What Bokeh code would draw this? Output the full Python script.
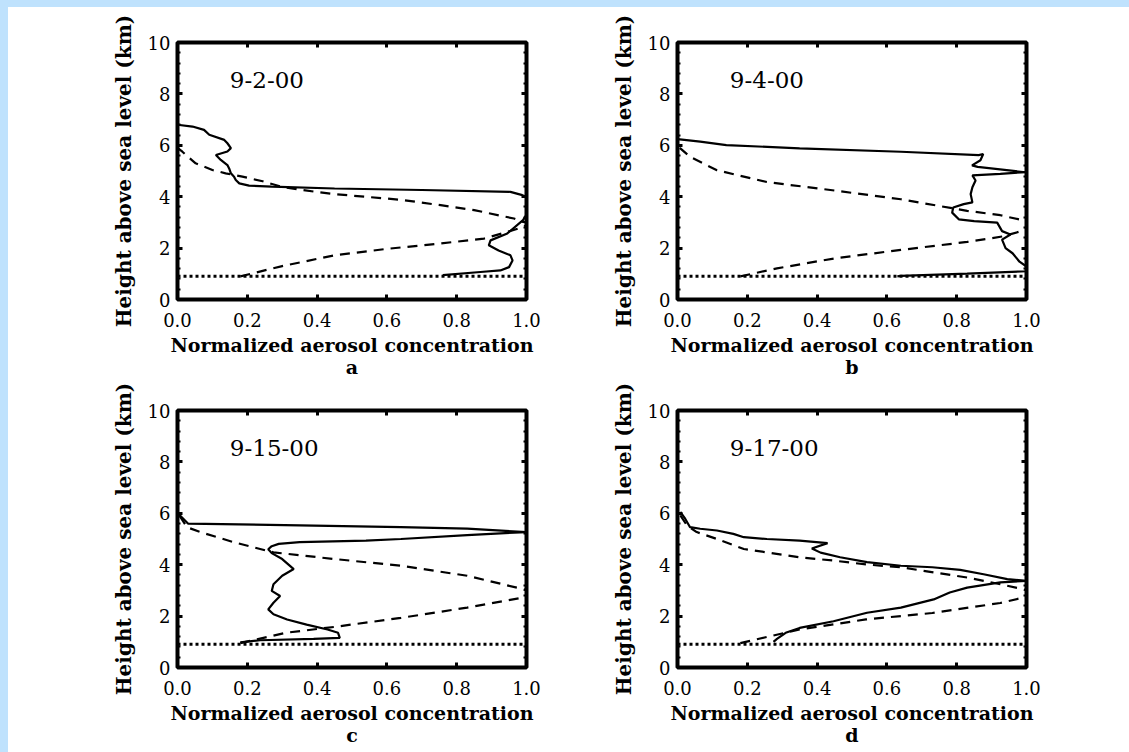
from bokeh.plotting import figure
from bokeh.models import (LinearAxis, FixedTicker, PrintfTickFormatter,
                          CustomJSTickFormatter, Span, Label)
from bokeh.layouts import gridplot, column
from bokeh.embed import file_html
from bokeh.resources import INLINE

# ---- data -------------------------------------------------------------
X_TICKS = [0.0, 0.2, 0.4, 0.6, 0.8, 1.0]
Y_TICKS = [0, 2, 4, 6, 8, 10]
Y_MINOR = [v / 10 for v in range(4, 100, 4) if v % 20]
BOUNDARY_KM = 0.9

DATES = ["9-2-00", "9-4-00", "9-15-00", "9-17-00"]
PANEL_TAGS = ["a", "b", "c", "d"]
X_TITLE = "Normalized aerosol concentration"
Y_TITLE = "Height above sea level (km)"

# 9-2-00
a_obs_x = [0.76, 0.868, 0.925, 0.95, 0.96, 0.954, 0.92, 0.892, 0.897, 0.945, 0.99, 1.0,
           1.0, 0.988, 0.954, 0.7, 0.45, 0.27, 0.205, 0.177, 0.167, 0.162, 0.153,
           0.148, 0.143, 0.124, 0.11, 0.143, 0.153, 0.143, 0.134, 0.091, 0.076,
           0.043, 0.0]
a_obs_y = [0.95, 1.07, 1.13, 1.26, 1.52, 1.72, 1.91, 2.11, 2.3, 2.57, 3.09, 3.3,
           4.0, 4.06, 4.19, 4.26, 4.32, 4.39, 4.43, 4.52, 4.65, 4.78, 4.91,
           5.1, 5.23, 5.43, 5.62, 5.76, 5.89, 6.08, 6.21, 6.41, 6.6,
           6.73, 6.8]
a_mod_x = [0.18, 0.3, 0.45, 0.6, 0.754, 0.878, 0.945, 0.99, 1.0,
           1.0, 0.99, 0.964, 0.85, 0.754, 0.64, 0.45, 0.39, 0.3, 0.244, 0.186,
           0.138, 0.1, 0.052, 0.029, 0.014, 0.0]
a_mod_y = [0.9, 1.3, 1.72, 1.97, 2.18, 2.37, 2.63, 2.82, 2.9,
           3.0, 3.02, 3.15, 3.48, 3.67, 3.88, 4.1, 4.2, 4.38, 4.6, 4.78,
           4.91, 5.04, 5.3, 5.56, 5.75, 5.9]

# 9-4-00
b_obs_x = [0.63, 0.64, 0.83, 1.0, 1.0, 0.98, 0.96, 0.94, 0.93, 0.954, 0.93, 0.916,
           0.85, 0.806, 0.787, 0.79, 0.82, 0.845, 0.84, 0.845, 0.854, 0.845,
           0.925, 1.0, 0.99, 0.86, 0.844, 0.868, 0.876, 0.863, 0.64, 0.35, 0.14,
           0.065, 0.0]
b_obs_y = [0.9, 0.92, 1.01, 1.1, 1.28, 1.47, 1.8, 2.0, 2.33, 2.53, 2.66, 2.99,
           3.05, 3.12, 3.38, 3.58, 3.71, 3.78, 4.1, 4.37, 4.63, 4.83,
           4.89, 4.96, 4.96, 5.16, 5.22, 5.42, 5.66, 5.62, 5.75, 5.88, 6.01,
           6.14, 6.24]
b_mod_x = [0.18, 0.285, 0.45, 0.64, 0.83, 0.93, 0.99, 1.0,
           1.0, 0.925, 0.83, 0.64, 0.45, 0.256, 0.113, 0.036, 0.008, 0.0]
b_mod_y = [0.9, 1.21, 1.6, 1.93, 2.24, 2.45, 2.68, 2.75,
           3.05, 3.28, 3.45, 3.9, 4.24, 4.57, 5.03, 5.55, 5.88, 5.95]

# 9-15-00
c_obs_x = [0.18, 0.237, 0.39, 0.465, 0.46, 0.43, 0.37, 0.314, 0.275, 0.26, 0.275,
           0.294, 0.27, 0.275, 0.3, 0.333, 0.3, 0.27, 0.26, 0.27, 0.29, 0.35,
           0.54, 0.64, 0.83, 1.0, 0.83, 0.64, 0.35, 0.03, 0.008, 0.0]
c_obs_y = [0.98, 1.06, 1.11, 1.15, 1.35, 1.48, 1.67, 1.87, 2.07, 2.26, 2.52,
           2.78, 2.98, 3.24, 3.57, 3.83, 4.22, 4.45, 4.6, 4.72, 4.81, 4.88,
           4.94, 5.0, 5.15, 5.27, 5.4, 5.46, 5.53, 5.6, 5.9, 6.0]
c_mod_x = [0.18, 0.31, 0.45, 0.64, 0.83, 0.99, 1.0,
           1.0, 0.99, 0.83, 0.64, 0.45, 0.275, 0.16, 0.065, 0.027, 0.008, 0.0]
c_mod_y = [0.95, 1.35, 1.58, 1.93, 2.33, 2.72, 2.78,
           3.0, 3.05, 3.57, 3.96, 4.22, 4.48, 4.88, 5.27, 5.46, 5.86, 5.95]

# 9-17-00
d_obs_x = [0.275, 0.285, 0.31, 0.35, 0.447, 0.543, 0.64, 0.734, 0.78, 0.83, 0.925,
           1.0, 0.945, 0.877, 0.81, 0.73, 0.64, 0.543, 0.466, 0.41, 0.385, 0.43,
           0.35, 0.256, 0.19, 0.16, 0.113, 0.065, 0.036, 0.022, 0.008]
d_obs_y = [1.0, 1.11, 1.35, 1.54, 1.8, 2.13, 2.33, 2.65, 2.92, 3.11, 3.31,
           3.37, 3.44, 3.63, 3.8, 3.9, 3.96, 4.1, 4.29, 4.47, 4.63, 4.84,
           4.94, 5.0, 5.07, 5.2, 5.33, 5.4, 5.46, 5.79, 6.05]
d_mod_x = [0.18, 0.35, 0.54, 0.73, 0.925, 0.99, 1.0,
           1.0, 0.99, 0.925, 0.83, 0.64, 0.54, 0.447, 0.35, 0.256, 0.19, 0.113,
           0.055, 0.027, 0.008, 0.0]
d_mod_y = [0.95, 1.48, 1.87, 2.12, 2.51, 2.72, 2.78,
           3.0, 3.05, 3.24, 3.5, 3.9, 4.01, 4.16, 4.29, 4.48, 4.61, 5.0,
           5.27, 5.53, 5.92, 5.98]

OBS = [(a_obs_x, a_obs_y), (b_obs_x, b_obs_y), (c_obs_x, c_obs_y), (d_obs_x, d_obs_y)]
MOD = [(a_mod_x, a_mod_y), (b_mod_x, b_mod_y), (c_mod_x, c_mod_y), (d_mod_x, d_mod_y)]

# ---- styling ----------------------------------------------------------
SERIF = "DejaVu Serif"
BG_BAND = "#bfe2fd"

# per-panel outer borders (left, right, top, bottom)
BORDERS = [(169, 43, 35, 84), (108, 103, 35, 84),
           (169, 43, 27, 85), (108, 103, 27, 85)]
FRAME_W, FRAME_H = 349, 257


def style_ticks(ax):
    ax.axis_line_color = None
    ax.major_tick_in = 5
    ax.major_tick_out = 0
    ax.major_tick_line_width = 3
    ax.minor_tick_in = 3
    ax.minor_tick_out = 0
    ax.minor_tick_line_width = 2


def blank_axis(ticker):
    ax = LinearAxis(ticker=ticker,
                    formatter=CustomJSTickFormatter(code="return ''"))
    style_ticks(ax)
    ax.major_label_text_font_size = "1px"
    ax.major_label_standoff = 0
    return ax


def make_panel(i):
    bl, br, bt, bb = BORDERS[i]
    p = figure(frame_width=FRAME_W, frame_height=FRAME_H,
               x_range=(0, 1), y_range=(0, 10),
               min_border_left=bl, min_border_right=br,
               min_border_top=bt, min_border_bottom=bb,
               output_backend="svg", toolbar_location=None,
               background_fill_color="white", border_fill_color="white")
    p.grid.visible = False
    p.outline_line_color = "black"
    p.outline_line_width = 4

    xa = p.xaxis[0]
    xa.ticker = FixedTicker(ticks=X_TICKS, minor_ticks=[])
    xa.formatter = PrintfTickFormatter(format="%.1f")
    # axis title with the panel letter on a second line
    xa.axis_label = X_TITLE + "\n" + PANEL_TAGS[i]
    ya = p.yaxis[0]
    ya.ticker = FixedTicker(ticks=Y_TICKS, minor_ticks=Y_MINOR)
    ya.formatter = PrintfTickFormatter(format="%d")
    ya.axis_label = Y_TITLE

    for ax in (xa, ya):
        style_ticks(ax)
        ax.major_label_text_font = SERIF
        ax.major_label_text_font_size = "18px"
        ax.major_label_text_color = "black"
        ax.axis_label_text_font = SERIF
        ax.axis_label_text_font_style = "bold"
        ax.axis_label_text_color = "black"
    xa.axis_label_text_font_size = "19px"
    xa.axis_label_text_line_height = 1.0
    ya.axis_label_text_font_size = "20px"
    xa.major_label_standoff = 13
    xa.axis_label_standoff = 4
    ya.major_label_standoff = 7
    ya.axis_label_standoff = 9

    p.add_layout(blank_axis(FixedTicker(ticks=X_TICKS, minor_ticks=[])), "above")
    p.add_layout(blank_axis(FixedTicker(ticks=Y_TICKS, minor_ticks=Y_MINOR)), "right")

    p.add_layout(Span(location=BOUNDARY_KM, dimension="width",
                      line_color="black", line_width=3, line_dash="3 3"))

    mx, my = MOD[i]
    p.line(mx, my, line_color="black", line_width=2.2, line_dash="10 7")
    ox, oy = OBS[i]
    p.line(ox, oy, line_color="black", line_width=2.2)

    p.add_layout(Label(x=0.15, y=8.55, text=DATES[i], text_baseline="middle",
                       text_font=SERIF, text_font_size="23px",
                       text_color="black"))
    return p


panels = [make_panel(i) for i in range(4)]
grid = gridplot([[panels[0], panels[1]], [panels[2], panels[3]]],
                toolbar_location=None)
grid.styles = {"background-color": "white"}
page = column(grid, styles={"background-color": BG_BAND, "padding-top": "7px",
                            "padding-left": "8px"})

open("out.html", "w").write(file_html(page, INLINE))
